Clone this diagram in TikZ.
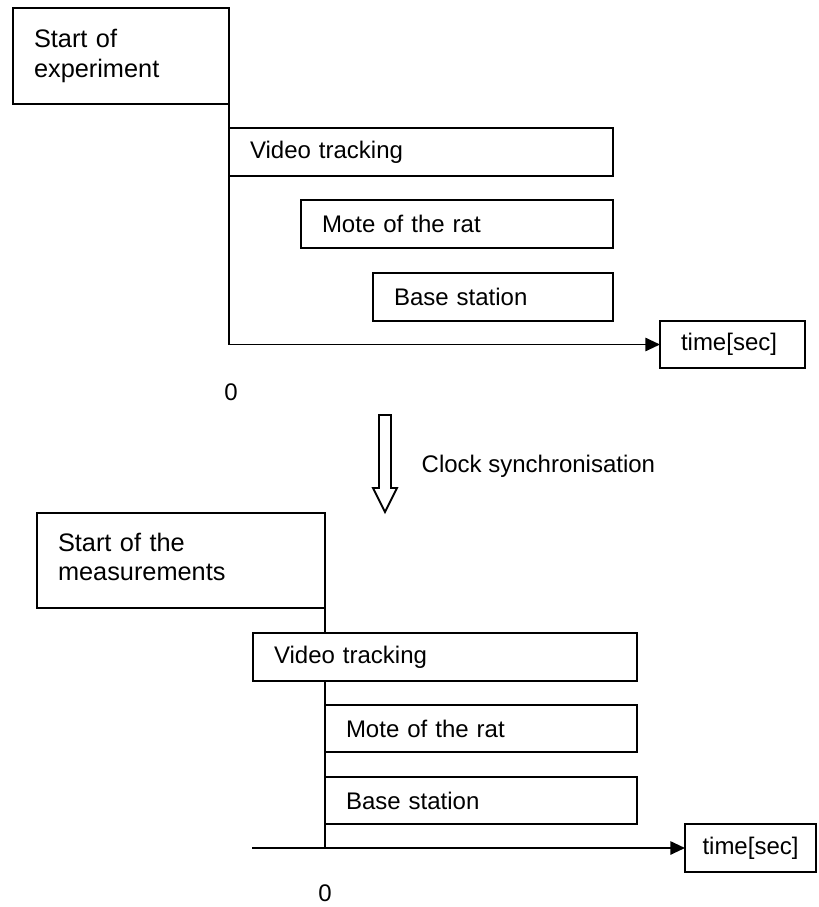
\documentclass[tikz,border=0pt]{standalone}
\usepackage{fontspec}
\setmainfont{Liberation Sans}
\usetikzlibrary{arrows.meta}
\begin{document}
\begin{tikzpicture}[x=0.75pt,y=-0.75pt,
  every node/.style={font=\fontsize{18pt}{21.75pt}\selectfont},
  tbox/.style={draw, fill=white, line width=1.4pt, align=left,
               inner xsep=15.75pt, inner ysep=0pt, outer sep=0pt},
  bigtext/.style={font=\fontsize{19pt}{22pt}\selectfont},
  link/.style={line width=1.4pt},
  axis/.style={line width=1.4pt, -{Triangle[length=11pt,width=10pt]}},
  blockarrow/.style={line width=1.4pt, fill=white}]
\useasboundingbox (0,0) rectangle (818,907);

% ---- before synchronisation ----
\node[tbox, bigtext, text width=130.5pt, minimum height=72pt] (start1) at (121,56) {Start of\\experiment};
\node[tbox, text width=256.5pt, minimum height=36pt] (video1) at (421,152) {Video tracking};
\node[tbox, text width=202.5pt, minimum height=36pt] (mote1) at (457,224) {Mote of the rat};
\node[tbox, text width=148.5pt, minimum height=36pt] (base1) at (493,297) {Base station};
\node[tbox, text width=77.25pt, minimum height=35.25pt] (time1) at (732.5,344.5) {time[sec]};
\draw[axis] (start1.south east) |- (time1.west);
\node (zero1) at (231,392) {0};

% ---- clock synchronisation step ----
\draw[blockarrow] (379,415) -- (391,415) -- (391,488) -- (397,488) -- (385,512)
                  -- (373,488) -- (379,488) -- cycle;
\node[anchor=base west] (sync) at (417,472) {Clock synchronisation};

% ---- after synchronisation ----
\node[tbox, bigtext, text width=184.5pt, minimum height=71.25pt] (start2) at (181,560.5) {Start of the\\measurements\rule[-6pt]{0pt}{0pt}};
\coordinate (o2) at (325,849);
\draw[link] (start2.south east) -- (o2);
\node[tbox, text width=256.5pt, minimum height=36pt] (video2) at (445,657) {Video tracking};
\node[tbox, text width=202.5pt, minimum height=35.25pt] (mote2) at (481,728.5) {Mote of the rat};
\node[tbox, text width=202.5pt, minimum height=35.25pt] (base2) at (481,800.5) {Base station};
\node[tbox, text width=72pt, inner xsep=13.125pt, minimum height=36pt] (time2) at (750.5,848) {time[sec]};
\coordinate (a2) at (252,848);
\draw[axis] (a2) -- (time2.west);
\node (zero2) at (325,893) {0};
\end{tikzpicture}
\end{document}
